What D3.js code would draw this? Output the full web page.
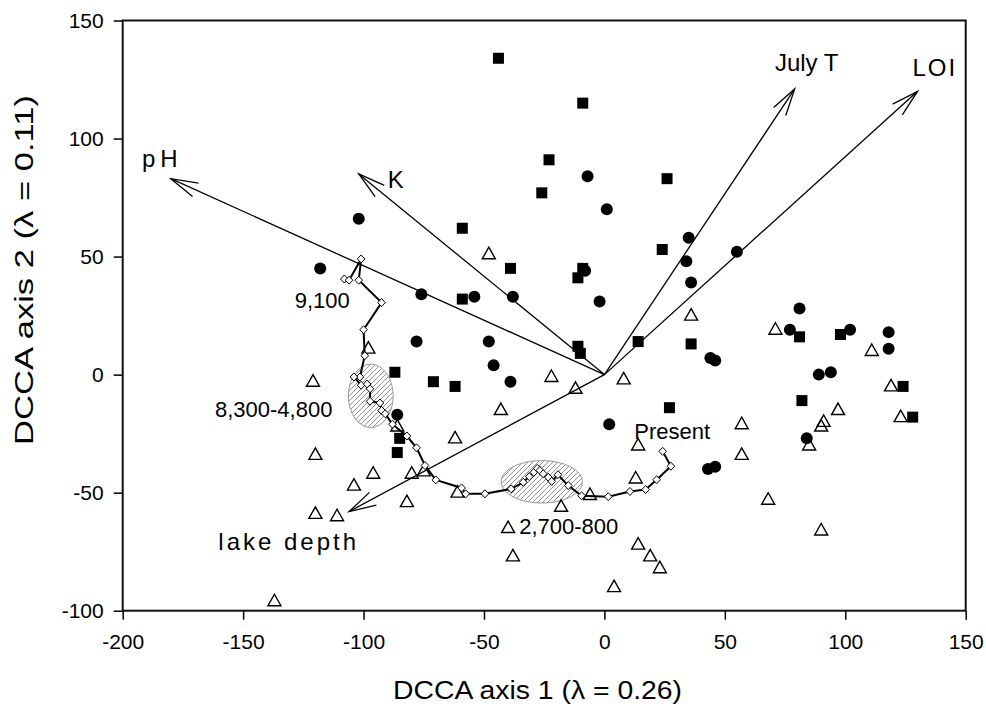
<!DOCTYPE html>
<html>
<head>
<meta charset="utf-8">
<script src="https://cdn.jsdelivr.net/npm/d3@7/dist/d3.min.js"></script>
<style>
	body { margin: 0; background: #fff; }
	svg { display: block; font-family: "Liberation Sans", Arial, sans-serif; }
</style>
</head>
<body>
<svg id="visualizacion"></svg>
<script>
// Datos (unidades de los ejes DCCA)
const sitiosCuadrado = [
	[-44, 134], [-9, 115], [-23, 91], [-26, 77], [26, 83], [-59, 62], [-39, 45],
	[-59, 32], [24, 53], [-9, 45], [-11, 41], [-11, 12], [-10, 9], [-87, 1],
	[-71, -3], [-62, -5], [-85, -27], [-86, -33], [14, 14], [36, 13], [27, -14],
	[81, 16], [98, 17], [82, -11], [124, -5], [128, -18]
];

const sitiosCirculo = [
	[-102, 66], [-118, 45], [-76, 34], [-54, 33], [-38, 33], [-7, 84], [1, 70],
	[35, 58], [34, 48], [36, 39], [55, 52], [-8, 44], [-2, 31], [81, 28],
	[-78, 14], [-48, 14], [-46, 4], [-39, -3], [-86, -17], [2, -21], [43, -40],
	[46, -39], [44, 7], [46, 6], [77, 19], [102, 19], [89, 0], [94, 1],
	[84, -27], [118, 18], [118, 11]
];

const sitiosTriangulo = [
	[-48, 51], [-98, 11], [-121, -3], [-22, -1], [-43, -15], [-62, -27], [-86, -22],
	[-120, -34], [-96, -42], [-104, -47], [-80, -42], [-75, -41], [-82, -54],
	[-61, -50], [-120, -59], [-111, -60], [-137, -96], [-40, -65], [-38, -77],
	[-18, -56], [-6, -51], [36, 25], [-12, -6], [8, -2], [71, 19], [111, 10],
	[119, -5], [123, -18], [97, -15], [91, -20], [90, -22], [85, -30], [57, -21],
	[57, -34], [68, -53], [90, -66], [14, -30], [13, -44], [14, -72], [19, -77],
	[23, -82], [4, -90]
];

// trayectoria de la secuencia (9,100 -> presente)
const trayectoria = [
	[-108, 40.5], [-106, 40], [-101, 49], [-102, 40], [-92.5, 30.5], [-100, 19],
	[-99.5, 8], [-101.5, -1], [-104, -1], [-101, -4.5], [-98.5, -4], [-97.3, -6],
	[-97.3, -11.3], [-93.2, -12], [-92.5, -15.2], [-91, -16.6], [-88, -21],
	[-82, -26], [-78, -31], [-74.5, -38.5], [-70, -44.6], [-59.3, -48], [-57.6, -50.5],
	[-49.6, -50.5], [-38.7, -48.4], [-33.7, -45.6], [-31.2, -43.2], [-29.3, -41.4],
	[-27.9, -39.7], [-26.8, -40.6], [-25.4, -42], [-23.3, -43.5], [-21.9, -45.2],
	[-19.3, -42.4], [-15, -47], [-9.5, -51.3], [1.6, -51.7], [10.6, -49.5],
	[17.1, -48.7], [21.7, -44.5], [27.6, -38.8], [24.2, -32.5]
];

const nombresVariables = ["pH", "K", "July T", "LOI", "lake depth"];
const puntasVariables = [[-180, 83], [-102, 85], [79, 121], [130, 120], [-106, -58]];
const posEtiquetasVariables = [[-192, 88], [-90, 79], [70.8, 128.4], [127.9, 126.6], [-160.3, -74.5]];

// zonas sombreadas: [cx, cy, rx, ry]
const zonas = [[-97, -9, 9.3, 13.4], [-26, -45.4, 16.9, 9]];

const textosPeriodos = ["9,100", "8,300-4,800", "2,700-800", "Present"];
const posPeriodos = [[-105.7, 28.4], [-161.7, -18.1], [-35.4, -67.3], [12.4, -27.2]];
const anclasPeriodos = ["end", "start", "start", "start"];

const ticksX = [-200, -150, -100, -50, 0, 50, 100, 150];
const ticksY = [-100, -50, 0, 50, 100, 150];

const WIDTH = 986,
	HEIGHT = 708;

const margins = {
	top: 20.5,
	bottom: 97.3,
	left: 122.7,
	right: 20.3
};

const svg = d3.select("#visualizacion")
	.attr("width", WIDTH)
	.attr("height", HEIGHT);

const escalaX = d3.scaleLinear()
	.domain([-200, 150])
	.range([margins.left, WIDTH - margins.right]);

const escalaY = d3.scaleLinear()
	.domain([-100, 150])
	.range([HEIGHT - margins.bottom, margins.top]);

// patron de rayado para las elipses
svg.append("defs")
	.append("pattern")
	.attr("id", "rayado")
	.attr("patternUnits", "userSpaceOnUse")
	.attr("width", 5)
	.attr("height", 5)
	.append("path")
	.attr("d", "M-1,1 l2,-2 M0,5 l5,-5 M4,6 l2,-2")
	.attr("stroke", "#777")
	.attr("stroke-width", 0.8);

svg.append("g")
	.selectAll("ellipse")
	.data(zonas)
	.join("ellipse")
	.attr("cx", d => escalaX(d[0]))
	.attr("cy", d => escalaY(d[1]))
	.attr("rx", d => escalaX(d[0] + d[2]) - escalaX(d[0]))
	.attr("ry", d => escalaY(d[1] - d[3]) - escalaY(d[1]))
	.attr("fill", "url(#rayado)")
	.attr("stroke", "#999")
	.attr("stroke-width", 1);

// ejes (guion normal en los negativos, como en el original)
const ejeX = d3.axisBottom(escalaX)
	.tickValues(ticksX)
	.tickSize(9)
	.tickPadding(14)
	.tickFormat(d => String(d));

const ejeY = d3.axisLeft(escalaY)
	.tickValues(ticksY)
	.tickSize(9)
	.tickPadding(10)
	.tickFormat(d => String(d));

const contenedorEjeX = svg.append("g")
	.attr("transform", `translate(0 ${HEIGHT - margins.bottom})`)
	.call(ejeX);

const contenedorEjeY = svg.append("g")
	.attr("transform", `translate(${margins.left} 0)`)
	.call(ejeY);

[contenedorEjeX, contenedorEjeY].forEach(c => {
	c.select(".domain").remove();
	c.selectAll(".tick line").attr("stroke", "#000").attr("stroke-width", 1.5);
	c.selectAll(".tick text")
		.attr("font-size", 21)
		.attr("font-family", "'Liberation Sans', Arial, sans-serif")
		.attr("fill", "#000");
});

// marco del grafico
svg.append("rect")
	.attr("x", margins.left)
	.attr("y", margins.top)
	.attr("width", WIDTH - margins.left - margins.right)
	.attr("height", HEIGHT - margins.top - margins.bottom)
	.attr("fill", "none")
	.attr("stroke", "#111")
	.attr("stroke-width", 2);

// flechas de variables ambientales
const origen = [escalaX(0), escalaY(0)];
const contenedorFlechas = svg.append("g")
	.attr("stroke", "#000")
	.attr("stroke-width", 1.3)
	.attr("fill", "none");

const largoPunta = 28,
	anguloPunta = 15 * Math.PI / 180;

puntasVariables.forEach(p => {
	const tx = escalaX(p[0]), ty = escalaY(p[1]);
	const ang = Math.atan2(origen[1] - ty, origen[0] - tx);
	const ala1 = [tx + largoPunta * Math.cos(ang + anguloPunta), ty + largoPunta * Math.sin(ang + anguloPunta)];
	const ala2 = [tx + largoPunta * Math.cos(ang - anguloPunta), ty + largoPunta * Math.sin(ang - anguloPunta)];
	contenedorFlechas.append("line")
		.attr("x1", origen[0]).attr("y1", origen[1])
		.attr("x2", tx).attr("y2", ty);
	contenedorFlechas.append("path")
		.attr("d", d3.line()([ala1, [tx, ty], ala2]));
});

svg.append("g")
	.selectAll("text")
	.data(nombresVariables)
	.join("text")
	.attr("x", (_, i) => escalaX(posEtiquetasVariables[i][0]))
	.attr("y", (_, i) => escalaY(posEtiquetasVariables[i][1]))
	.attr("font-size", 24)
	.attr("letter-spacing", (d) => d == "pH" ? 5 : (d == "lake depth" ? 3 : (d == "July T" ? 0 : 2)))
	.text(d => d);

// sitios
svg.append("g")
	.selectAll("path")
	.data(sitiosTriangulo)
	.join("path")
	.attr("d", d => {
		const x = escalaX(d[0]), y = escalaY(d[1]);
		return `M${x},${y - 7}L${x + 6.5},${y + 4.5}L${x - 6.5},${y + 4.5}Z`;
	})
	.attr("fill", "none")
	.attr("stroke", "#000")
	.attr("stroke-width", 1.4);

svg.append("g")
	.selectAll("rect")
	.data(sitiosCuadrado)
	.join("rect")
	.attr("x", d => escalaX(d[0]) - 5.5)
	.attr("y", d => escalaY(d[1]) - 5.5)
	.attr("width", 11)
	.attr("height", 11)
	.attr("fill", "#000");

svg.append("g")
	.selectAll("circle")
	.data(sitiosCirculo)
	.join("circle")
	.attr("cx", d => escalaX(d[0]))
	.attr("cy", d => escalaY(d[1]))
	.attr("r", 6)
	.attr("fill", "#000");

// trayectoria con rombos
svg.append("path")
	.datum(trayectoria)
	.attr("d", d3.line().x(d => escalaX(d[0])).y(d => escalaY(d[1])))
	.attr("fill", "none")
	.attr("stroke", "#000")
	.attr("stroke-width", 2);

svg.append("g")
	.selectAll("path")
	.data(trayectoria)
	.join("path")
	.attr("d", d => {
		const x = escalaX(d[0]), y = escalaY(d[1]);
		return `M${x},${y - 4}L${x + 3.8},${y}L${x},${y + 4}L${x - 3.8},${y}Z`;
	})
	.attr("fill", "#fff")
	.attr("stroke", "#000")
	.attr("stroke-width", 1);

// etiquetas de periodos
svg.append("g")
	.selectAll("text")
	.data(textosPeriodos)
	.join("text")
	.attr("x", (_, i) => escalaX(posPeriodos[i][0]))
	.attr("y", (_, i) => escalaY(posPeriodos[i][1]))
	.attr("text-anchor", (_, i) => anclasPeriodos[i])
	.attr("font-size", 22)
	.text(d => d);

// titulos de ejes
svg.append("text")
	.attr("x", 537.5)
	.attr("y", 699)
	.attr("text-anchor", "middle")
	.attr("font-size", 26)
	.attr("textLength", 289)
	.attr("lengthAdjust", "spacingAndGlyphs")
	.text("DCCA axis 1 (λ = 0.26)");

svg.append("text")
	.attr("transform", `translate(33 270) rotate(-90)`)
	.attr("text-anchor", "middle")
	.attr("font-size", 26)
	.attr("textLength", 350)
	.attr("lengthAdjust", "spacingAndGlyphs")
	.text("DCCA axis 2 (λ = 0.11)");
</script>
</body>
</html>
